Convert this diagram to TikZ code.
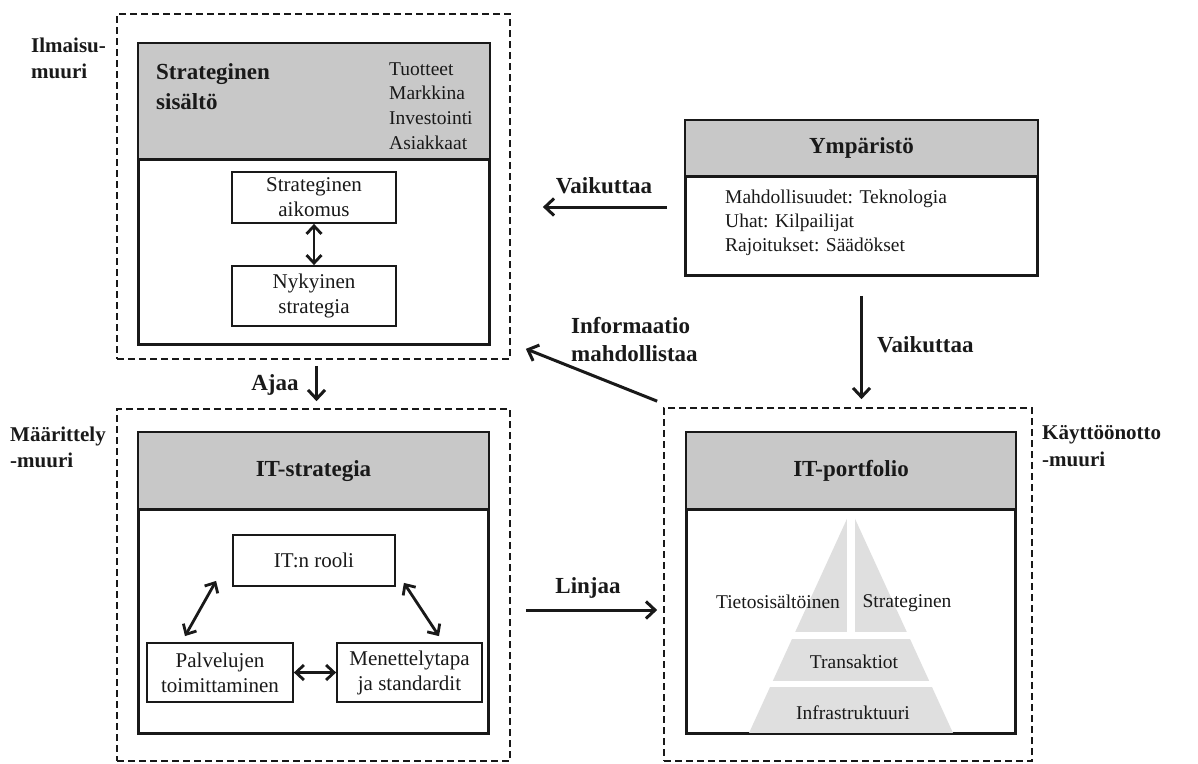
\documentclass[tikz,border=0pt]{standalone}
\usepackage{fontspec}
\setmainfont{Liberation Serif}
\usetikzlibrary{arrows.meta,calc}
\definecolor{hdrgray}{RGB}{200,200,200}
\definecolor{pyrgray}{RGB}{223,223,223}
\definecolor{ink}{RGB}{25,25,25}
\newcommand\boxfont{\fontsize{21}{25}\selectfont}
\newcommand\listfont{\fontsize{19.5}{24.7}\selectfont}
\newcommand\headfont{\fontsize{23}{30}\selectfont\bfseries}
\tikzset{
  wall/.style={draw=ink, line width=1.7pt, dash pattern=on 7pt off 4pt, inner sep=0pt},
  panel/.style={draw=ink, line width=1.9pt, fill=white, inner sep=0pt},
  hdr/.style={fill=hdrgray, inner sep=0pt},
  hdrline/.style={draw=ink, line width=2.8pt},
  frameline/.style={draw=ink, line width=1.9pt},
  ibox/.style={draw=ink, line width=1.8pt, fill=white, align=center, inner sep=0pt, font=\boxfont, text=ink},
  title/.style={font=\headfont, text=ink, inner sep=0pt},
  walllabel/.style={font=\fontsize{21}{26.5}\selectfont\bfseries, align=left, inner sep=0pt, text=ink},
  arrlabel/.style={font=\fontsize{23}{28}\selectfont\bfseries, align=left, inner sep=0pt, text=ink},
  plain/.style={font=\listfont, align=left, inner sep=0pt, text=ink},
  arr/.style={draw=ink, line width=3pt, -{Straight Barb[length=9pt,width=17pt]}},
  dbl/.style={draw=ink, line width=2.8pt, {Straight Barb[length=8pt,width=15pt]}-{Straight Barb[length=8pt,width=15pt]}}
}
\begin{document}
\begin{tikzpicture}[x=1pt,y=-1pt]
\useasboundingbox (0,0) rectangle (1198,763);

% ---------- dashed walls ----------
\node[wall, minimum width=393pt, minimum height=345pt] (f1) at (313.5,186.5) {};
\node[wall, minimum width=393pt, minimum height=352pt] (f2) at (313.5,585) {};
\node[wall, minimum width=368pt, minimum height=353pt] (f3) at (848,584.5) {};

\node[walllabel, anchor=west] (w1) at (31,58.5) {Ilmaisu-\\muuri};
\node[walllabel, anchor=west] (w2) at (10,447.5) {Määrittely\\-muuri};
\node[walllabel, anchor=west] (w3) at (1042,446) {Käyttöönotto\\-muuri};

% ---------- strategic content ----------
\node[panel, minimum width=350pt, minimum height=300pt] (p1) at (314,194) {};
\node[hdr, minimum width=350pt, minimum height=116pt, anchor=north] (h1) at (p1.north) {};
\draw[hdrline] (h1.south west) -- (h1.south east);
\draw[frameline] (p1.north west) rectangle (p1.south east);
\node[title, anchor=west, align=left] (t1) at (156,87) {Strateginen\\sisältö};
\node[plain, anchor=west] (l1) at (389,106) {Tuotteet\\Markkina\\Investointi\\Asiakkaat};
\node[ibox, minimum width=164pt, minimum height=51pt] (sa) at (314,197.5) {Strateginen\\aikomus};
\node[ibox, minimum width=164pt, minimum height=60pt] (ns) at (314,296) {Nykyinen\\strategia};
\draw[dbl] (sa.south) -- (ns.north);

% ---------- environment ----------
\node[panel, minimum width=351pt, minimum height=154pt] (ymp) at (861.5,198) {};
\node[hdr, minimum width=351pt, minimum height=56pt, anchor=north] (hy) at (ymp.north) {};
\draw[hdrline] (hy.south west) -- (hy.south east);
\draw[frameline] (ymp.north west) rectangle (ymp.south east);
\node[title] (ty) at (hy.center) {Ympäristö};
\node[plain, anchor=west, font=\fontsize{19.5}{24}\selectfont] (ly) at (725,223) {Mahdollisuudet: Teknologia\\Uhat: Kilpailijat\\Rajoitukset: Säädökset};

% ---------- IT strategy ----------
\node[panel, minimum width=349pt, minimum height=300pt] (p2) at (313.5,583) {};
\node[hdr, minimum width=349pt, minimum height=77pt, anchor=north] (h2) at (p2.north) {};
\draw[hdrline] (h2.south west) -- (h2.south east);
\draw[frameline] (p2.north west) rectangle (p2.south east);
\node[title] (t2) at (h2.center) {IT-strategia};
\node[ibox, minimum width=162pt, minimum height=51pt] (rooli) at (314,560.5) {IT:n rooli};
\node[ibox, minimum width=146pt, minimum height=59pt] (palv) at (220,672.5) {Palvelujen\\toimittaminen};
\node[ibox, minimum width=145pt, minimum height=59pt] (men) at (409.5,672.5) {Menettelytapa\\ja standardit};
\draw[dbl] ($(rooli.south west)+(-16,-6)$) -- ($(palv.north)+(-35,-6)$);
\draw[dbl] ($(rooli.south east)+(8,-4)$) -- ($(men.north)+(29.5,-6)$);
\draw[dbl] (palv.east) -- (men.west);

% ---------- IT portfolio ----------
\node[panel, minimum width=328pt, minimum height=300pt] (p3) at (851,583) {};
\node[hdr, minimum width=328pt, minimum height=77pt, anchor=north] (h3) at (p3.north) {};
\node[title] (t3) at (h3.center) {IT-portfolio};
% pyramid with its white dividing gaps
\fill[pyrgray] (851,510) -- (953,733) -- (749,733) -- cycle;
\fill[white] (847,510) rectangle (855,632);
\fill[white] (780,632) rectangle (925,639);
\fill[white] (760,681) rectangle (945,687);
\draw[hdrline] (h3.south west) -- (h3.south east);
\draw[frameline] (p3.north west) rectangle (p3.south east);
\node[plain] (py1) at (778,602) {Tietosisältöinen};
\node[plain] (py2) at (907,603) {Strateginen};
\node[plain] (py3) at (854,662) {Transaktiot};
\node[plain] (py4) at (853,713) {Infrastruktuuri};

% ---------- relations between the blocks ----------
\draw[arr] ($(ymp.west)+(-18,9)$) -- ($(f1.east |- ymp.west)+(32,9)$);
\node[arrlabel] (v1) at (604,186) {Vaikuttaa};

\draw[arr] ($(ymp.south)+(0,20)$) -- ($(ymp.south |- f3.north)+(0,-8)$);
\node[arrlabel, anchor=west] (v2) at (877,345) {Vaikuttaa};

\draw[arr] ($(f3.north west)+(-6,-6)$) -- ($(f1.south east)+(15,-11)$);
\node[arrlabel, anchor=west] (inf) at (571,340) {Informaatio\\mahdollistaa};

\draw[arr] ($(f1.south)+(3,6)$) -- ($(f2.north)+(3,-7)$);
\node[arrlabel] (aj) at (275,385) {Ajaa};

\draw[arr] ($(f2.east)+(15,25)$) -- ($(f3.west)+(-6,25.5)$);
\node[arrlabel] (lin) at (588,588) {Linjaa};
\end{tikzpicture}
\end{document}
